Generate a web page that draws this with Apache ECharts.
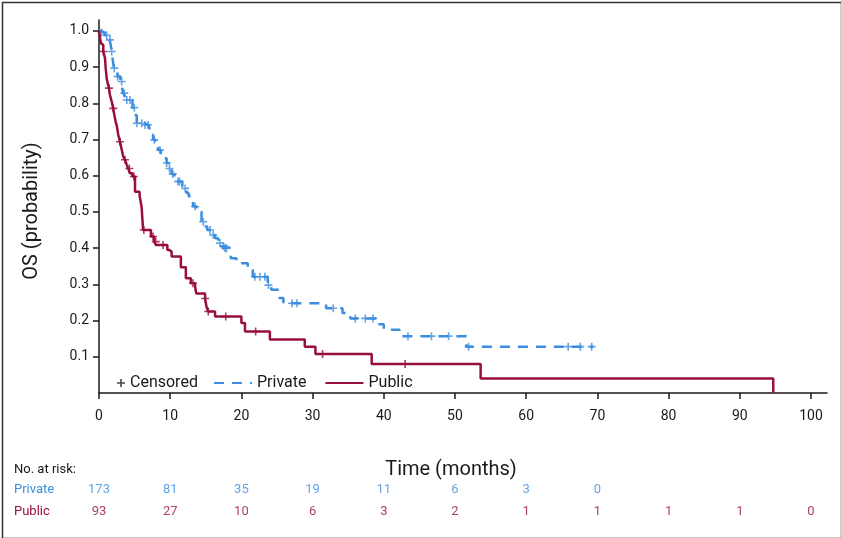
<!DOCTYPE html>
<html>
<head>
<meta charset="utf-8">
<script src="https://cdn.jsdelivr.net/npm/echarts@6/dist/echarts.min.js"></script>
<style>
html,body{margin:0;padding:0;background:#fff;}
#chart{width:841px;height:538px;}
</style>
</head>
<body>
<div id="chart"></div>
<script>
// ---- Data ----
const xTicks = [0,10,20,30,40,50,60,70,80,90,100];
const yTicks = [0.1,0.2,0.3,0.4,0.5,0.6,0.7,0.8,0.9,1.0];

// Kaplan-Meier steps: [time (months), survival after event]
const privateSteps = [
  [0,1.0],[0.3,0.995],[0.8,0.988],[1.2,0.982],[1.5,0.975],[1.65,0.961],[1.78,0.943],[1.95,0.916],
  [2.1,0.897],[2.3,0.888],[2.6,0.874],[3.0,0.86],[3.2,0.846],[3.4,0.828],[3.65,0.819],[3.9,0.809],
  [4.7,0.788],[5.0,0.768],[5.3,0.745],[6.3,0.74],[7.0,0.731],[7.3,0.713],[7.6,0.699],[7.9,0.69],
  [8.3,0.671],[8.7,0.662],[9.2,0.648],[9.5,0.635],[9.8,0.62],[10.2,0.605],[10.6,0.593],[11.0,0.584],
  [11.7,0.565],[12.3,0.552],[12.6,0.543],[13.2,0.515],[13.7,0.501],[14.4,0.473],[14.8,0.46],[15.2,0.45],
  [15.8,0.436],[16.3,0.427],[16.75,0.414],[17.2,0.405],[17.6,0.40],[18.5,0.372],[19.3,0.358],[20.9,0.34],
  [21.6,0.321],[23.7,0.298],[24.2,0.285],[25.3,0.262],[25.9,0.248],[31.9,0.234],[34.2,0.221],[35.3,0.206],
  [39.0,0.19],[40.0,0.175],[42.2,0.157],[51.6,0.128],[69.4,0.128]
];
const publicSteps = [
  [0,1.0],[0.14,0.98],[0.28,0.966],[0.47,0.961],[0.6,0.943],[0.84,0.925],[0.94,0.897],[1.08,0.869],
  [1.22,0.855],[1.4,0.842],[1.54,0.823],[1.78,0.805],[2.0,0.786],[2.15,0.768],[2.34,0.749],[2.48,0.74],
  [2.7,0.713],[2.95,0.694],[3.2,0.671],[3.4,0.653],[3.65,0.644],[3.9,0.63],[4.1,0.62],[4.35,0.607],
  [4.7,0.598],[5.06,0.556],[5.7,0.545],[5.9,0.524],[6.0,0.51],[6.1,0.478],[6.2,0.45],[7.3,0.432],
  [7.75,0.418],[8.0,0.409],[9.6,0.395],[9.9,0.39],[10.2,0.377],[11.5,0.347],[12.2,0.317],[12.9,0.303],
  [13.5,0.294],[13.65,0.275],[14.9,0.261],[15.1,0.238],[15.35,0.225],[16.3,0.211],[20.0,0.193],[20.5,0.17],
  [24.0,0.148],[28.9,0.128],[30.4,0.108],[38.3,0.08],[53.6,0.04],[94.7,0.0]
];
// Censoring times (months)
const privateCensored = [0.37,1.08,1.54,1.78,2.15,2.6,3.18,3.55,3.9,4.35,4.96,5.3,6.0,6.46,6.9,7.77,8.57,9.5,9.9,
  10.35,11.1,11.3,12.1,13.5,14.65,15.6,16.05,17.0,17.5,17.7,17.9,21.9,22.6,23.3,23.8,27.1,27.8,32.9,36.0,37.4,38.5,
  43.4,46.7,49.1,51.9,65.9,67.6,69.2];
const publicCensored = [0.6,1.4,2.0,2.95,3.65,4.26,4.9,6.3,7.6,7.96,9.0,13.2,14.9,15.35,17.8,22.0,31.4,43.0];

// Numbers at risk
const riskTimes = [0,10,20,30,40,50,60,70,80,90,100];
const privateRisk = [173,81,35,19,11,6,3,0];
const publicRisk = [93,27,10,6,3,2,1,1,1,1,0];

const BLUE = '#3b8de0';
const RED = '#990f3c';
const TXT = '#1a1a1a';
const FONT = 'Roboto, "Liberation Sans", sans-serif';
const PLUS = 'path://M4,0H6V4H10V6H6V10H4V6H0V4H4Z';

function stepAt(steps, t){
  let s = steps[0][1];
  for (const p of steps){ if (p[0] <= t) s = p[1]; }
  return s;
}

const chart = echarts.init(document.getElementById('chart'));
const option = {
  animation: false,
  backgroundColor: '#fff',
  textStyle: {fontFamily: FONT},
  grid: [
    {left: 99, right: 14, top: 20, bottom: 145, containLabel: false},
    {left: 99, right: 14, top: 479, height: 44, containLabel: false}
  ],
  xAxis: [
    {
      type: 'value', gridIndex: 0, min: 0, max: 102.25,
      axisLine: {show: true, lineStyle: {color: TXT, width: 1.5}},
      axisTick: {show: true, length: 6, customValues: xTicks, lineStyle: {color: TXT, width: 1.5}},
      axisLabel: {customValues: xTicks, color: TXT, fontSize: 14, margin: 16, fontFamily: FONT},
      splitLine: {show: false}
    },
    {type: 'value', gridIndex: 1, min: 0, max: 102.25, show: false}
  ],
  yAxis: [
    {
      type: 'value', gridIndex: 0, min: 0, max: 1.03,
      axisLine: {show: true, lineStyle: {color: TXT, width: 1.5}},
      axisTick: {show: true, length: 6, customValues: yTicks, lineStyle: {color: TXT, width: 1.5}},
      axisLabel: {customValues: yTicks, color: TXT, fontSize: 14, margin: 10, fontFamily: FONT,
        formatter: v => v.toFixed(1)},
      splitLine: {show: false}
    },
    {
      type: 'category', gridIndex: 1, data: ['Private','Public'], inverse: true,
      axisLine: {show: false}, axisTick: {show: false},
      axisLabel: {align: 'left', margin: 85, fontSize: 13, fontFamily: FONT,
        color: (v) => v === 'Private' ? BLUE : RED}
    }
  ],
  legend: [
    {
      left: 112, top: 370, itemWidth: 8, itemHeight: 8, data: [{name: 'Censored', icon: PLUS}],
      textStyle: {color: TXT, fontSize: 16, fontFamily: FONT}
    },
    {
      left: 208, top: 370, itemWidth: 38, itemHeight: 10, itemGap: 18, data: ['Private','Public'],
      itemStyle: {opacity: 0},
      textStyle: {color: TXT, fontSize: 16, fontFamily: FONT}
    }
  ],
  series: [
    {name: 'Censored', type: 'scatter', data: [], symbol: PLUS, itemStyle: {color: TXT}},
    {
      name: 'Private', type: 'line', step: 'end', data: privateSteps, xAxisIndex: 0, yAxisIndex: 0,
      showSymbol: false, symbol: 'none', color: BLUE,
      lineStyle: {color: BLUE, width: 2.5, type: [10, 8]}
    },
    {
      name: 'Public', type: 'line', step: 'end', data: publicSteps, xAxisIndex: 0, yAxisIndex: 0,
      showSymbol: false, symbol: 'none', color: RED,
      lineStyle: {color: RED, width: 2.5}
    },
    {
      name: 'PrivateCens', type: 'scatter', symbol: PLUS, symbolSize: 8,
      data: privateCensored.map(t => [t, stepAt(privateSteps, t)]),
      itemStyle: {color: BLUE}
    },
    {
      name: 'PublicCens', type: 'scatter', symbol: PLUS, symbolSize: 8,
      data: publicCensored.map(t => [t, stepAt(publicSteps, t)]),
      itemStyle: {color: RED}
    },
    {
      name: 'riskPrivate', type: 'scatter', xAxisIndex: 1, yAxisIndex: 1, symbolSize: 1,
      itemStyle: {color: 'rgba(0,0,0,0)'},
      data: privateRisk.map((n, i) => ({value: [riskTimes[i], 0], label: {formatter: String(n)}})),
      label: {show: true, position: 'inside', color: BLUE, fontSize: 13, fontFamily: FONT}
    },
    {
      name: 'riskPublic', type: 'scatter', xAxisIndex: 1, yAxisIndex: 1, symbolSize: 1,
      itemStyle: {color: 'rgba(0,0,0,0)'},
      data: publicRisk.map((n, i) => ({value: [riskTimes[i], 1], label: {formatter: String(n)}})),
      label: {show: true, position: 'inside', color: RED, fontSize: 13, fontFamily: FONT}
    }
  ],
  graphic: [
    {type: 'rect', left: 0, top: 0, shape: {width: 839, height: 536},
      style: {fill: 'none', stroke: '#333', lineWidth: 1.5}, silent: true},
    {type: 'text', x: 451, y: 470, style: {text: 'Time (months)', fill: TXT, font: '20px ' + FONT,
      textAlign: 'center', textVerticalAlign: 'middle'}},
    {type: 'text', x: 32, y: 211, rotation: Math.PI / 2, style: {text: 'OS (probability)', fill: TXT,
      font: '20px ' + FONT, textAlign: 'center', textVerticalAlign: 'middle'}},
    {type: 'text', x: 14, y: 470, style: {text: 'No. at risk:', fill: TXT, font: '13px ' + FONT,
      textAlign: 'left', textVerticalAlign: 'middle'}}
  ]
};
chart.setOption(option);
</script>
</body>
</html>
